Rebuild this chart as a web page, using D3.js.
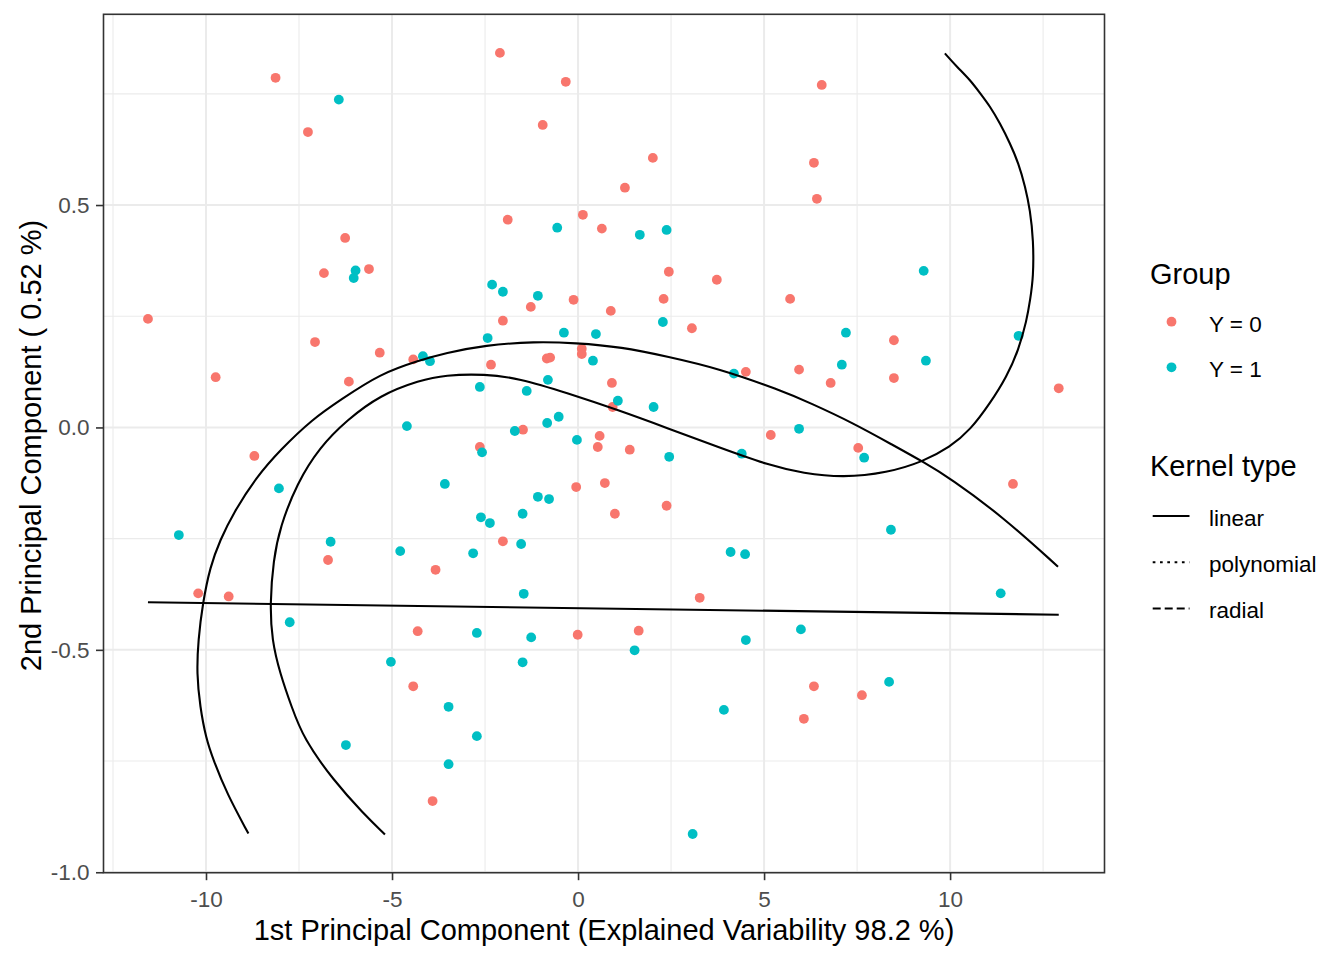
<!DOCTYPE html>
<html>
<head>
<meta charset="utf-8">
<script src="https://cdn.jsdelivr.net/npm/d3@7/dist/d3.min.js"></script>
<style>
  html, body { margin: 0; padding: 0; background: #ffffff; }
  svg { display: block; font-family: "Liberation Sans", Arial, sans-serif; }
</style>
</head>
<body>
<svg id="chart" width="1344" height="960"></svg>
<script>
// ---------------- DATA ----------------
const groups = ["Y = 0", "Y = 1"];
const groupColors = ["#F8766D", "#00BFC4"];

// Group Y = 0 : [PC1, PC2]
const group0 = [
  [-8.13, 0.786], [-7.26, 0.664], [-6.26, 0.426], [-6.83, 0.347], [-5.62, 0.356],
  [-2.10, 0.842], [-0.33, 0.777], [-0.95, 0.680], [2.01, 0.606], [1.26, 0.539],
  [-1.89, 0.467], [0.13, 0.478], [0.64, 0.447], [2.44, 0.350], [3.73, 0.332],
  [-0.12, 0.287], [2.30, 0.289], [-1.27, 0.271], [0.88, 0.262], [6.55, 0.770],
  [6.34, 0.595], [6.42, 0.514], [5.70, 0.289], [-11.56, 0.244], [-9.74, 0.113],
  [-7.07, 0.192], [-5.33, 0.168], [-4.43, 0.153], [-6.16, 0.103], [-8.70, -0.064],
  [-6.72, -0.298], [-3.83, -0.320], [-10.21, -0.373], [-9.39, -0.380], [-2.02, 0.240],
  [3.06, 0.223], [0.10, 0.177], [0.10, 0.165], [-0.84, 0.155], [-0.75, 0.157],
  [-2.34, 0.141], [4.51, 0.125], [0.91, 0.100], [0.93, 0.046], [-1.48, -0.005],
  [0.58, -0.019], [0.53, -0.044], [1.39, -0.050], [-2.64, -0.044], [5.18, -0.017],
  [-0.05, -0.134], [0.72, -0.125], [2.38, -0.176], [0.99, -0.194], [-2.02, -0.256],
  [3.27, -0.383], [5.94, 0.130], [8.49, 0.196], [6.79, 0.100], [8.49, 0.111],
  [12.92, 0.088], [7.53, -0.046], [11.69, -0.127], [-4.31, -0.458], [-4.43, -0.582],
  [-3.91, -0.840], [-0.01, -0.466], [1.63, -0.457], [6.34, -0.582], [6.07, -0.655],
  [7.63, -0.602]
];

// Group Y = 1 : [PC1, PC2]
const group1 = [
  [-6.43, 0.737], [-5.98, 0.353], [-6.03, 0.336], [-0.56, 0.449], [1.66, 0.433],
  [2.38, 0.444], [-2.31, 0.321], [-2.02, 0.305], [-1.08, 0.296], [9.29, 0.352],
  [-4.17, 0.160], [-3.98, 0.149], [-4.60, 0.003], [-8.04, -0.137], [-3.58, -0.127],
  [-10.73, -0.242], [-6.65, -0.257], [-4.78, -0.278], [2.28, 0.237], [-2.43, 0.201],
  [-0.38, 0.213], [0.48, 0.210], [0.40, 0.150], [4.19, 0.121], [-2.64, 0.091],
  [-0.81, 0.107], [-1.38, 0.082], [1.07, 0.060], [2.03, 0.046], [-0.52, 0.024],
  [-0.83, 0.010], [-1.70, -0.008], [-0.03, -0.028], [-2.58, -0.056], [2.45, -0.066],
  [4.40, -0.059], [-1.08, -0.156], [-0.78, -0.161], [-1.49, -0.194], [-2.61, -0.202],
  [-2.37, -0.215], [-1.53, -0.262], [-2.82, -0.283], [4.10, -0.280], [4.49, -0.285],
  [-1.46, -0.374], [7.20, 0.213], [9.35, 0.150], [11.84, 0.206], [7.09, 0.141],
  [5.94, -0.003], [7.69, -0.068], [8.41, -0.230], [11.36, -0.373], [-7.75, -0.438],
  [-5.03, -0.527], [-6.24, -0.714], [-2.72, -0.462], [-1.26, -0.472], [1.52, -0.501],
  [4.51, -0.478], [-1.49, -0.528], [-3.48, -0.628], [-2.72, -0.694], [-3.48, -0.757],
  [3.92, -0.635], [3.08, -0.914], [5.99, -0.454], [8.36, -0.572]
];

// Decision boundaries (SVM kernels)
const kernelTypes = ["linear", "polynomial", "radial"];
const kernelDash = ["none", "2.7,4.6", "8,4"];

const boundaryLinear = [[-11.56, -0.393], [12.92, -0.421]];

const boundaryPolynomial = [
  [-8.86, -0.913], [-9.44, -0.823], [-9.80, -0.748], [-10.00, -0.699], [-10.16, -0.628],
  [-10.25, -0.553], [-10.21, -0.478], [-10.09, -0.396], [-9.89, -0.313], [-9.62, -0.253],
  [-9.27, -0.193], [-8.64, -0.111], [-8.01, -0.051], [-7.12, 0.020], [-6.40, 0.061],
  [-5.32, 0.121], [-4.25, 0.151], [-3.58, 0.167], [-2.50, 0.185], [-1.16, 0.193],
  [-0.08, 0.190], [1.17, 0.181], [2.42, 0.159], [3.76, 0.133], [5.43, 0.084],
  [6.24, 0.055], [7.39, 0.010], [8.47, -0.040], [9.27, -0.077], [10.00, -0.114],
  [11.42, -0.201], [12.90, -0.313]
];

const boundaryRadial = [
  [-5.19, -0.915], [-5.77, -0.868], [-6.58, -0.793], [-7.38, -0.699], [-7.70, -0.628],
  [-8.01, -0.553], [-8.23, -0.478], [-8.28, -0.396], [-8.19, -0.298], [-8.01, -0.224],
  [-7.56, -0.126], [-6.94, -0.044], [-6.22, 0.016], [-5.32, 0.073], [-4.25, 0.106],
  [-3.58, 0.118], [-2.50, 0.120], [-1.61, 0.111], [-0.27, 0.077], [1.08, 0.039],
  [2.42, -0.002], [3.76, -0.044], [5.16, -0.086], [6.05, -0.103], [7.12, -0.113],
  [8.31, -0.102], [9.27, -0.077], [10.00, -0.044], [10.54, -0.006], [11.08, 0.055],
  [11.52, 0.114], [11.84, 0.174], [12.06, 0.241], [12.15, 0.286], [12.24, 0.338],
  [12.24, 0.421], [12.15, 0.489], [12.02, 0.541], [11.84, 0.594], [11.61, 0.639],
  [11.34, 0.684], [11.08, 0.721], [10.81, 0.751], [10.54, 0.781], [10.18, 0.811],
  [9.86, 0.841]
];

const xMajor = [-10, -5, 0, 5, 10];
const xMinor = [-12.5, -7.5, -2.5, 2.5, 7.5, 12.5];
const yMajor = [-1.0, -0.5, 0.0, 0.5];
const yMinor = [-0.75, -0.25, 0.25, 0.75];

const xTitle = "1st Principal Component (Explained Variability 98.2 %)";
const yTitle = "2nd Principal Component ( 0.52 %)";
const legendTitle1 = "Group";
const legendTitle2 = "Kernel type";

// ---------------- LAYOUT ----------------
const svg = d3.select("#chart");
const P = { left: 103.5, right: 1104.5, top: 14.3, bottom: 872.7 };

const x = d3.scaleLinear().domain([-12.755, 14.15]).range([P.left, P.right]);
const y = d3.scaleLinear().domain([-1.001, 0.9288]).range([P.bottom, P.top]);

// panel background
svg.append("rect")
  .attr("x", P.left).attr("y", P.top)
  .attr("width", P.right - P.left).attr("height", P.bottom - P.top)
  .attr("fill", "#ffffff");

// grid
const grid = svg.append("g");
grid.selectAll(".xmin").data(xMinor).join("line")
  .attr("x1", d => x(d)).attr("x2", d => x(d))
  .attr("y1", P.top).attr("y2", P.bottom)
  .attr("stroke", "#EBEBEB").attr("stroke-width", 1.1);
grid.selectAll(".ymin").data(yMinor).join("line")
  .attr("y1", d => y(d)).attr("y2", d => y(d))
  .attr("x1", P.left).attr("x2", P.right)
  .attr("stroke", "#EBEBEB").attr("stroke-width", 1.1);
grid.selectAll(".xmaj").data(xMajor).join("line")
  .attr("x1", d => x(d)).attr("x2", d => x(d))
  .attr("y1", P.top).attr("y2", P.bottom)
  .attr("stroke", "#EBEBEB").attr("stroke-width", 2);
grid.selectAll(".ymaj").data(yMajor).join("line")
  .attr("y1", d => y(d)).attr("y2", d => y(d))
  .attr("x1", P.left).attr("x2", P.right)
  .attr("stroke", "#EBEBEB").attr("stroke-width", 2);

// points
const pts = svg.append("g");
[group0, group1].forEach((g, i) => {
  pts.selectAll(null).data(g).join("circle")
    .attr("cx", d => x(d[0])).attr("cy", d => y(d[1]))
    .attr("r", 4.9)
    .attr("fill", groupColors[i]);
});

// boundaries
const line = d3.line().x(d => x(d[0])).y(d => y(d[1])).curve(d3.curveBasis);
const bnd = svg.append("g").attr("fill", "none").attr("stroke", "#000")
  .attr("stroke-width", 2.1).attr("stroke-linejoin", "round");
[boundaryLinear, boundaryPolynomial, boundaryRadial].forEach(b => {
  bnd.append("path").attr("d", line(b));
});

// panel border
svg.append("rect")
  .attr("x", P.left).attr("y", P.top)
  .attr("width", P.right - P.left).attr("height", P.bottom - P.top)
  .attr("fill", "none").attr("stroke", "#333333").attr("stroke-width", 1.6);

// axes
const xAxis = svg.append("g")
  .attr("transform", `translate(0,${P.bottom})`)
  .call(d3.axisBottom(x).tickValues(xMajor).tickSize(7.5).tickPadding(11.2).tickFormat(d3.format("d")));
const yAxis = svg.append("g")
  .attr("transform", `translate(${P.left},0)`)
  .call(d3.axisLeft(y).tickValues(yMajor).tickSize(7.5).tickPadding(6.5).tickFormat(d3.format(".1f")));
[xAxis, yAxis].forEach(a => {
  a.select(".domain").remove();
  a.selectAll(".tick line").attr("stroke", "#333333").attr("stroke-width", 1.6);
  a.selectAll(".tick text")
    .attr("fill", "#4D4D4D")
    .style("font-size", "22.5px")
    .style("font-family", "'Liberation Sans', Arial, sans-serif");
});
// plain hyphen-minus like R
xAxis.selectAll(".tick text").text(d => String(d));
yAxis.selectAll(".tick text").text(d => d3.format(".1f")(d).replace("\u2212", "-"));

// axis titles
svg.append("text")
  .attr("x", (P.left + P.right) / 2).attr("y", 939.5)
  .attr("text-anchor", "middle")
  .style("font-size", "29px").attr("fill", "#000")
  .text(xTitle);
svg.append("text")
  .attr("transform", `translate(41,${(P.top + P.bottom) / 2 + 2}) rotate(-90)`)
  .attr("text-anchor", "middle")
  .style("font-size", "29px").attr("fill", "#000")
  .text(yTitle);

// legend: group
const lg = svg.append("g");
lg.append("text").attr("x", 1150).attr("y", 283.5)
  .style("font-size", "29px").text(legendTitle1);
groups.forEach((g, i) => {
  lg.append("circle").attr("cx", 1171.5).attr("cy", 321.7 + i * 45.6)
    .attr("r", 4.9).attr("fill", groupColors[i]);
  lg.append("text").attr("x", 1209).attr("y", 331.7 + i * 45.6)
    .style("font-size", "22.5px").text(g);
});

// legend: kernel type
lg.append("text").attr("x", 1150).attr("y", 476)
  .style("font-size", "29px").text(legendTitle2);
kernelTypes.forEach((k, i) => {
  lg.append("line")
    .attr("x1", 1152.7).attr("x2", 1189.5)
    .attr("y1", 516 + i * 46.2).attr("y2", 516 + i * 46.2)
    .attr("stroke", "#000").attr("stroke-width", 2)
    .attr("stroke-dasharray", kernelDash[i]);
  lg.append("text").attr("x", 1209).attr("y", 526 + i * 46)
    .style("font-size", "22.5px").text(k);
});
</script>
</body>
</html>
